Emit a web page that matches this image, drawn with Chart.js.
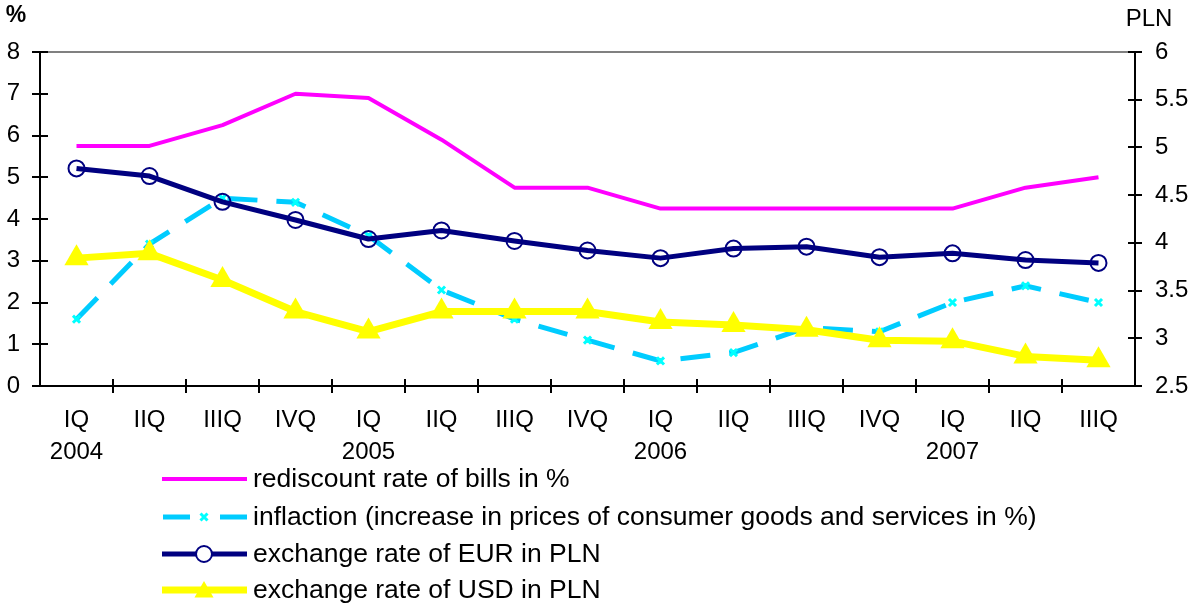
<!DOCTYPE html>
<html>
<head>
<meta charset="utf-8">
<script src="https://cdn.jsdelivr.net/npm/chart.js@4.4.0/dist/chart.umd.min.js"></script>
<style>
html,body{margin:0;padding:0;background:#fff;}
#wrap{width:1192px;height:608px;position:relative;}
</style>
</head>
<body>
<div id="wrap"><canvas id="c" width="1192" height="608"></canvas></div>
<script>
const categories = [["IQ","2004"],"IIQ","IIIQ","IVQ",["IQ","2005"],"IIQ","IIIQ","IVQ",["IQ","2006"],"IIQ","IIIQ","IVQ",["IQ","2007"],"IIQ","IIIQ"];
const rediscountRate = [5.75,5.75,6.25,7.0,6.9,5.9,4.75,4.75,4.25,4.25,4.25,4.25,4.25,4.75,5.0];
const inflation = [1.6,3.4,4.5,4.4,3.6,2.3,1.6,1.1,0.6,0.8,1.4,1.3,2.0,2.4,2.0];
const eurPln = [4.78,4.70,4.43,4.24,4.04,4.13,4.02,3.92,3.84,3.94,3.96,3.85,3.89,3.82,3.79];
const usdPln = [3.84,3.89,3.61,3.28,3.07,3.28,3.28,3.28,3.17,3.14,3.09,2.98,2.97,2.81,2.77];
const seriesLabels = [
  "rediscount rate of bills in %",
  "inflaction (increase in prices of consumer goods and services in %)",
  "exchange rate of EUR in PLN",
  "exchange rate of USD in PLN"
];
const leftTitle = "%";
const rightTitle = "PLN";

const FONT = "'Liberation Sans', Arial, sans-serif";

const decorPlugin = {
  id: 'decor',
  afterDraw(chart) {
    const ctx = chart.ctx;
    const x = chart.scales.x, yl = chart.scales.y, yr = chart.scales.y1;
    ctx.save();
    ctx.strokeStyle = '#000';
    ctx.lineWidth = 2;
    ctx.setLineDash([]);
    const n = categories.length;
    const w = (x.right - x.left) / n;
    for (let k = 1; k < n; k++) {
      const px = Math.round(x.left + k * w);
      ctx.beginPath(); ctx.moveTo(px, x.top - 7); ctx.lineTo(px, x.top + 7); ctx.stroke();
    }
    yl.ticks.forEach(t => {
      const py = Math.round(yl.getPixelForValue(t.value));
      ctx.beginPath(); ctx.moveTo(yl.right - 8, py); ctx.lineTo(yl.right + 8, py); ctx.stroke();
    });
    yr.ticks.forEach(t => {
      const py = Math.round(yr.getPixelForValue(t.value));
      ctx.beginPath(); ctx.moveTo(yr.left - 7, py); ctx.lineTo(yr.left + 7, py); ctx.stroke();
    });
    ctx.fillStyle = '#000';
    ctx.textBaseline = 'middle';
    ctx.textAlign = 'center';
    ctx.font = "bold 23px " + FONT;
    ctx.fillText(leftTitle, 16, 16);
    ctx.font = "24px " + FONT;
    ctx.fillText(rightTitle, 1149, 19);

    const rows = [479, 517, 554, 590];
    const x0 = 162, x1 = 247, xm = 204;
    chart.data.datasets.forEach((ds, i) => {
      const y = rows[i];
      ctx.strokeStyle = ds.borderColor;
      ctx.lineWidth = ds.borderWidth;
      ctx.lineCap = 'butt';
      ctx.setLineDash([]);
      if (ds.borderDash && ds.borderDash.length) {
        ctx.beginPath(); ctx.moveTo(x0 + 1, y); ctx.lineTo(x0 + 28, y); ctx.stroke();
        ctx.beginPath(); ctx.moveTo(x1 - 27, y); ctx.lineTo(x1, y); ctx.stroke();
      } else {
        ctx.beginPath(); ctx.moveTo(x0, y); ctx.lineTo(x1, y); ctx.stroke();
      }
      if (ds.pointRadius > 0) {
        ctx.fillStyle = ds.pointBackgroundColor;
        ctx.strokeStyle = ds.pointBorderColor;
        ctx.lineWidth = ds.pointBorderWidth;
        ctx.beginPath();
        if (ds.pointStyle === 'circle') {
          ctx.fillStyle = '#fff';
          ctx.arc(xm, y, 8, 0, Math.PI * 2);
          ctx.fill(); ctx.stroke();
        } else if (ds.pointStyle === 'triangle') {
          const r = 11, cy = y + 2;
          ctx.moveTo(xm, cy - r);
          ctx.lineTo(xm + r * 0.866, cy + r * 0.5);
          ctx.lineTo(xm - r * 0.866, cy + r * 0.5);
          ctx.closePath(); ctx.fill();
        } else {
          const r = 3.5;
          ctx.moveTo(xm - r, y - r); ctx.lineTo(xm + r, y + r);
          ctx.moveTo(xm + r, y - r); ctx.lineTo(xm - r, y + r);
          ctx.stroke();
        }
      }
      ctx.fillStyle = '#000';
      ctx.font = "26.5px " + FONT;
      ctx.textAlign = 'left';
      ctx.textBaseline = 'middle';
      ctx.fillText(ds.label, 253, y + 1);
    });
    ctx.restore();
  }
};

new Chart(document.getElementById('c'), {
  type: 'line',
  data: {
    labels: categories,
    datasets: [
      {
        label: seriesLabels[0], data: rediscountRate, yAxisID: 'y',
        borderColor: '#FF00FF', borderWidth: 4, pointRadius: 0, pointStyle: 'circle',
        borderJoinStyle: 'round', tension: 0, order: 4
      },
      {
        label: seriesLabels[1], data: inflation, yAxisID: 'y',
        borderColor: '#00CCFF', borderWidth: 5, borderDash: [30, 19],
        pointStyle: 'crossRot', pointRadius: 5, pointBorderWidth: 3,
        pointBorderColor: '#00FFFF', pointBackgroundColor: '#00FFFF',
        tension: 0, order: 3
      },
      {
        label: seriesLabels[2], data: eurPln, yAxisID: 'y1',
        borderColor: '#000080', borderWidth: 5,
        pointStyle: 'circle', pointRadius: 8, pointBorderWidth: 2,
        pointBorderColor: '#000080', pointBackgroundColor: 'rgba(0,0,0,0)',
        borderJoinStyle: 'round', tension: 0, order: 2
      },
      {
        label: seriesLabels[3], data: usdPln, yAxisID: 'y1',
        borderColor: '#FFFF00', borderWidth: 7,
        pointStyle: 'triangle', pointRadius: 14, pointBorderWidth: 0,
        pointBorderColor: '#FFFF00', pointBackgroundColor: '#FFFF00',
        borderJoinStyle: 'round', tension: 0, order: 1
      }
    ]
  },
  options: {
    responsive: false,
    animation: false,
    devicePixelRatio: 1,
    layout: { padding: { top: 52, left: 0, right: 0, bottom: 0 } },
    plugins: { legend: { display: false }, tooltip: { enabled: false } },
    scales: {
      x: {
        type: 'category',
        offset: true,
        grid: { display: false, drawTicks: false },
        border: { display: true, color: '#000', width: 2 },
        ticks: {
          autoSkip: false, maxRotation: 0, minRotation: 0, padding: 18,
          color: '#000', font: { family: FONT, size: 24, lineHeight: 1.33 }
        },
        afterFit(s) { s.height = 222; }
      },
      y: {
        position: 'left', min: 0, max: 8,
        grid: {
          drawTicks: false,
          color: c => (c.tick && c.tick.value === 8) ? '#808080' : 'rgba(0,0,0,0)',
          lineWidth: 2
        },
        border: { display: true, color: '#000', width: 2 },
        ticks: { stepSize: 1, padding: 20, color: '#000', font: { family: FONT, size: 24 } },
        afterFit(s) { s.width = 40; }
      },
      y1: {
        position: 'right', min: 2.5, max: 6,
        grid: { drawOnChartArea: false, drawTicks: false },
        border: { display: true, color: '#000', width: 2 },
        ticks: {
          stepSize: 0.5, padding: 20, color: '#000', font: { family: FONT, size: 24 },
          callback: v => String(v)
        },
        afterFit(s) { s.width = 57; }
      }
    }
  },
  plugins: [decorPlugin]
});
</script>
</body>
</html>
